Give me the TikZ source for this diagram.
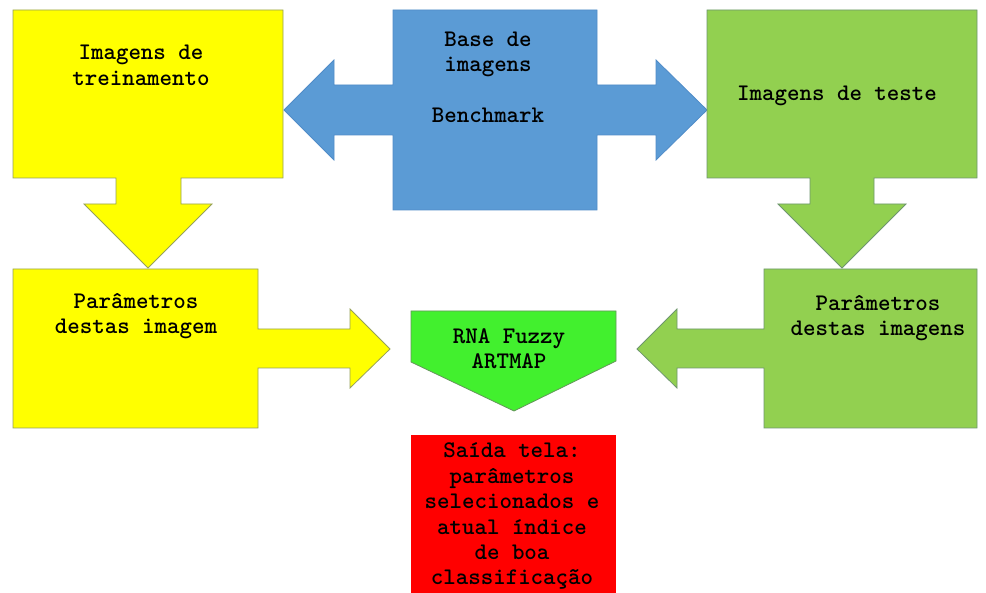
\documentclass[tikz,border=0pt]{standalone}
\usepackage{fontspec}
\begin{document}
\begin{tikzpicture}[x=1pt,y=-1pt,
  yel/.style={fill={rgb,255:red,255;green,255;blue,0},draw={rgb,255:red,150;green,160;blue,90},line width=0.8pt,line join=miter},
  blu/.style={fill={rgb,255:red,91;green,155;blue,213},draw={rgb,255:red,80;green,140;blue,200},line width=0.8pt},
  grn/.style={fill={rgb,255:red,146;green,208;blue,80},draw={rgb,255:red,110;green,150;blue,110},line width=0.8pt},
  brg/.style={fill={rgb,255:red,66;green,240;blue,46},draw={rgb,255:red,100;green,150;blue,90},line width=0.8pt},
  redb/.style={fill={rgb,255:red,255;green,0;blue,0},draw=none},
  lbl/.style={inner sep=0pt,align=center,font=\ttfamily\bfseries\fontsize{23.8}{25.4}\selectfont,text=black}]
\useasboundingbox (0,0) rectangle (986,593);
\fill[white] (0,0) rectangle (986,593);
% training images callout
\draw[yel] (13,10) -- (283,10) -- (283,178) -- (181,178) -- (181,204) -- (212,204)
  -- (148,268) -- (84,204) -- (116,204) -- (116,178) -- (13,178) -- cycle;
% benchmark double arrow
\draw[blu] (393,10) -- (597,10) -- (597,85) -- (656,85) -- (656,60) -- (707,110)
  -- (656,160) -- (656,135) -- (597,135) -- (597,210) -- (393,210) -- (393,135)
  -- (334,135) -- (334,160) -- (284,110) -- (334,60) -- (334,85) -- (393,85) -- cycle;
% test images callout
\draw[grn] (707,10) -- (977,10) -- (977,178) -- (874,178) -- (874,204) -- (906,204)
  -- (842,268) -- (778,204) -- (810,204) -- (810,178) -- (707,178) -- cycle;
% training parameters callout
\draw[yel] (13,269) -- (258,269) -- (258,329) -- (350,329) -- (350,309) -- (390,349)
  -- (350,388) -- (350,368) -- (258,368) -- (258,428) -- (13,428) -- cycle;
% test parameters callout
\draw[grn] (977,269) -- (764,269) -- (764,329) -- (677,329) -- (677,309) -- (637,349)
  -- (677,388) -- (677,368) -- (764,368) -- (764,428) -- (977,428) -- cycle;
% RNA pentagon
\draw[brg] (411,311) -- (616,311) -- (616,361) -- (514,411) -- (411,362) -- cycle;
% output box
\fill[redb] (411,435) rectangle (616,593);
% labels
\node[lbl] (treino) at (141,65.5) {Imagens de\\treinamento};
\node[lbl] (base) at (488,77) {Base de\\imagens\\[25.4pt]Benchmark};
\node[lbl] (teste) at (837,96) {Imagens de teste};
\node[lbl] (ptreino) at (136,316) {Parâmetros\\destas imagem};
\node[lbl] (pteste) at (878,318) {Parâmetros\\destas imagens};
\node[lbl] (rna) at (509,348.5) {RNA Fuzzy\\ARTMAP};
\node[lbl] (saida) at (512,516.5) {Saída tela:\\parâmetros\\selecionados e\\atual índice\\de boa\\classificação};
\end{tikzpicture}
\end{document}
